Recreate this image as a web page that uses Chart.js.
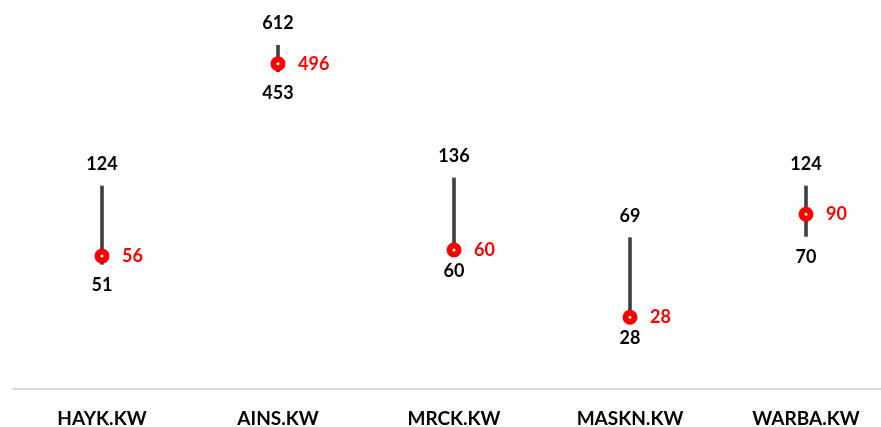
<!DOCTYPE html>
<html>
<head>
<meta charset="utf-8">
<script src="https://cdn.jsdelivr.net/npm/chart.js@4.4.1/dist/chart.umd.min.js"></script>
<style>
  html, body { margin: 0; padding: 0; background: #fff; overflow: hidden; }
  #wrap { width: 894px; height: 427px; }
</style>
</head>
<body>
<div id="wrap"><canvas id="chart" width="894" height="427"></canvas></div>
<script>
// -------------------------------------------------------
// Data
// -------------------------------------------------------
const tickers = ['HAYK.KW', 'AINS.KW', 'MRCK.KW', 'MASKN.KW', 'WARBA.KW'];
const highs   = [124, 612, 136, 69, 124];
const lows    = [51, 453, 60, 28, 70];
const current = [56, 496, 60, 28, 90];

const FONT = 'Lato, "Open Sans", sans-serif';

// -------------------------------------------------------
// Value labels (high above, low below, current to the right)
// -------------------------------------------------------
const rangeLabels = {
  id: 'rangeLabels',
  afterDatasetsDraw(chart) {
    const { ctx, scales: { x, y } } = chart;
    ctx.save();
    ctx.font = 'bold 18px ' + FONT;
    ctx.textBaseline = 'middle';
    tickers.forEach((t, i) => {
      const px = x.getPixelForValue(i);
      ctx.fillStyle = '#000';
      ctx.textAlign = 'center';
      ctx.fillText(String(highs[i]), px, y.getPixelForValue(highs[i]) - 22);
      ctx.fillText(String(lows[i]), px, y.getPixelForValue(lows[i]) + 21);
      ctx.fillStyle = '#ff0000';
      ctx.textAlign = 'left';
      ctx.fillText(String(current[i]), px + 20, y.getPixelForValue(current[i]));
    });
    ctx.restore();
  }
};

new Chart(document.getElementById('chart'), {
  type: 'bar',
  data: {
    labels: tickers,
    datasets: [
      {
        type: 'line',
        label: 'Current',
        data: current,
        showLine: false,
        pointStyle: 'circle',
        pointRadius: 4.5,
        pointHoverRadius: 4.5,
        pointBorderWidth: 6,
        pointBorderColor: '#ff0000',
        pointBackgroundColor: '#ffffff',
        order: 0,
      },
      {
        label: 'Range',
        data: tickers.map((t, i) => [lows[i], highs[i]]),
        backgroundColor: '#404040',
        barThickness: 3,
        borderSkipped: false,
        order: 1,
      },
    ],
  },
  options: {
    responsive: false,
    animation: false,
    layout: { autoPadding: false, padding: { top: 2, left: 14, right: 0, bottom: 0 } },
    plugins: {
      legend: { display: false },
      tooltip: { enabled: false },
    },
    scales: {
      x: {
        grid: { display: false, drawTicks: false },
        border: { display: true, color: '#d9d9d9', width: 2 },
        ticks: {
          color: '#000',
          padding: 20,
          font: { family: FONT, size: 19, weight: 'bold', lineHeight: 1 },
          maxRotation: 0,
        },
        afterFit(scale) { scale.height = 38; },
      },
      y: {
        type: 'logarithmic',
        display: false,
        min: 12.4,
        max: 1000,
      },
    },
  },
  plugins: [rangeLabels],
});
</script>
</body>
</html>
